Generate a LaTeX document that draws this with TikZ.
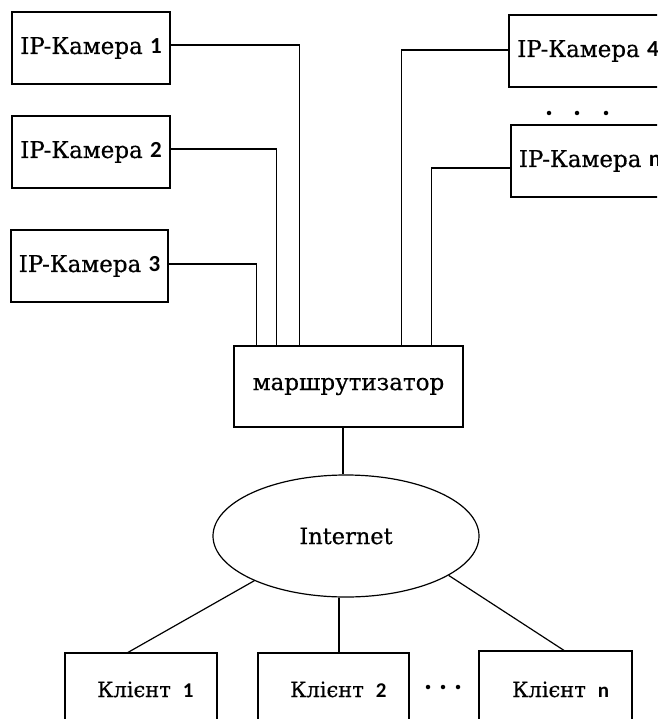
\documentclass[tikz,border=0pt]{standalone}
\usepackage{fontspec}
\setmainfont{DejaVu Serif}[FakeBold=0.5]
\newfontfamily\digf{Carlito}
\usetikzlibrary{shapes.geometric,calc}
\begin{document}
\begin{tikzpicture}[x=1pt,y=-1pt,
  box/.style={draw,line width=1.2pt,rectangle,inner sep=0pt},
  conn/.style={line width=1.2pt},
  lbl/.style={font=\fontsize{23}{26}\selectfont},
  clbl/.style={font=\fontsize{21}{24}\selectfont,inner sep=0pt,anchor=base west},
  dotc/.style={fill=black,circle,inner sep=0pt,minimum size=4.5pt}]
\useasboundingbox (0,0) rectangle (657,719);
\clip (0,0) rectangle (657,719);
\fill[white] (0,0) rectangle (657,719);
\newcommand{\dg}[1]{{\digf\bfseries #1}}
% cameras
\node[box,lbl,minimum width=158pt,minimum height=72pt] (cam1) at (91,48) {IP-Камера \dg{1}};
\node[box,lbl,minimum width=158pt,minimum height=72pt] (cam2) at (91,152) {IP-Камера \dg{2}};
\node[box,lbl,minimum width=157pt,minimum height=72pt] (cam3) at (89.5,266) {IP-Камера \dg{3}};
\node[box,lbl,minimum width=158pt,minimum height=72pt] (cam4) at (588,51) {IP-Камера \dg{4}};
\node[box,lbl,minimum width=158pt,minimum height=72pt] (camn) at (590,161) {IP-Камера \dg{n}};
% router
\node[box,font=\fontsize{23}{26}\selectfont,minimum width=229pt,minimum height=81pt] (router) at (348.5,386.5) {маршрутизатор};
% internet
\node[draw,line width=1.2pt,ellipse,inner sep=0pt,minimum width=266pt,minimum height=122pt,font=\fontsize{22.5}{25}\selectfont] (inet) at (346,536) {Internet};
% clients
\node[box,minimum width=152pt,minimum height=80pt] (c1) at (141,693) {};
\node[box,minimum width=151pt,minimum height=80pt] (c2) at (333.5,693) {};
\node[box,minimum width=153pt,minimum height=80pt] (cn) at (555.5,691) {};
\node[clbl] (t1) at (97,697) {Клієнт\hspace{12pt}\dg{1}};
\node[clbl] (t2) at (290,697) {Клієнт\hspace{12pt}\dg{2}};
\node[clbl] (tn) at (512,697) {Клієнт\hspace{12pt}\dg{n}};
% dots
\node[dotc] (d1) at (549,113) {};
\node[dotc] (d2) at (577,113) {};
\node[dotc] (d3) at (606,113) {};
\node[dotc] (e1) at (428,687) {};
\node[dotc] (e2) at (443,687) {};
\node[dotc] (e3) at (458,687) {};
% connectors
\draw[conn] ([yshift=3pt]cam1.east) -| ([xshift=66pt]router.north west);
\draw[conn] ([yshift=3pt]cam2.east) -| ([xshift=43pt]router.north west);
\draw[conn] ([yshift=2pt]cam3.east) -| ([xshift=23pt]router.north west);
\draw[conn] ([yshift=1pt]cam4.west) -| ([xshift=168pt]router.north west);
\draw[conn] ([yshift=-7pt]camn.west) -| ([xshift=198pt]router.north west);
\draw[conn] ([xshift=-5.5pt]router.south) -- ([xshift=-5.5pt]router.south |- inet.north);
\draw[conn] ([xshift=-7pt]inet.south) -- ([xshift=-7pt]inet.south |- c2.north);
\draw[conn] (inet.206) -- ([xshift=-13pt]c1.north);
\draw[conn] (inet.339) -- ([xshift=8.5pt]cn.north);
\end{tikzpicture}
\end{document}
